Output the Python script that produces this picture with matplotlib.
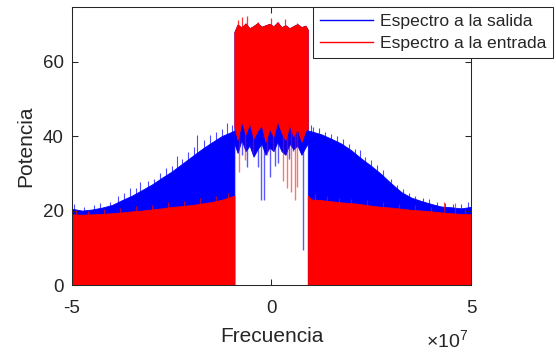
import matplotlib
matplotlib.use("Agg")
import matplotlib.pyplot as plt
from matplotlib.lines import Line2D
from matplotlib.ticker import FuncFormatter
import numpy as np

plt.rcParams["font.family"] = ["Liberation Sans", "DejaVu Sans"]
plt.rcParams["mathtext.fontset"] = "custom"
plt.rcParams["mathtext.rm"] = "Liberation Sans"

ink = "#262626"
SCALE = 1e7   # frequency axis in Hz, labels shown in units of 1e7

# --- spectrum envelopes (freq in units of 1e7 Hz) ---
# outside the pass band, left side
f_left = [-5.0, -4.75, -4.5, -4.25, -4.0, -3.75, -3.5, -3.25, -3.0, -2.75,
          -2.5, -2.25, -2.0, -1.75, -1.5, -1.25, -0.93]
salida_left = [20.5, 20.0, 20.3, 20.8, 21.5, 22.8, 24.0, 25.5, 27.0, 28.8,
               30.5, 32.5, 34.5, 36.5, 38.3, 40.0, 41.5]
entrada_left = [19.0, 18.9, 19.0, 19.1, 19.3, 19.5, 19.8, 20.0, 20.3, 20.6,
                21.0, 21.2, 21.5, 21.9, 22.3, 22.9, 24.0]

# outside the pass band, right side
f_right = [0.91, 1.0, 1.25, 1.5, 1.75, 2.0, 2.25, 2.5, 2.75, 3.0,
           3.25, 3.5, 3.75, 4.0, 4.25, 4.5, 4.75, 5.0]
salida_right = [41.5, 41.3, 40.5, 39.3, 38.0, 36.2, 34.0, 32.0, 29.8, 27.3,
                25.0, 23.5, 22.6, 21.8, 21.1, 20.9, 20.6, 21.0]
entrada_right = [24.0, 23.0, 22.8, 22.5, 22.2, 22.0, 21.7, 21.3, 21.0, 20.8,
                 20.5, 20.2, 20.0, 19.8, 19.5, 19.3, 19.1, 19.0]

# inside the pass band
f_band = [-0.93, -0.85, -0.75, -0.65, -0.55, -0.45, -0.35, -0.25, -0.15, -0.05,
          0.05, 0.15, 0.25, 0.35, 0.45, 0.55, 0.65, 0.75, 0.85, 0.91]
band_top = [68.0, 70.0, 69.2, 70.3, 69.0, 69.6, 70.4, 69.4, 69.8, 70.2,
            69.5, 70.6, 69.3, 69.8, 69.0, 69.6, 70.1, 69.3, 69.7, 68.6]
entrada_band_low = [42.5, 39.0, 44.0, 40.5, 43.5, 39.5, 41.5, 43.0, 38.5, 42.0,
                    40.0, 44.0, 41.0, 39.0, 43.0, 40.0, 42.0, 38.5, 41.5, 42.0]
salida_band_low = [38.0, 35.5, 39.0, 36.0, 37.5, 34.5, 36.5, 38.0, 35.0, 37.0,
                   36.0, 38.5, 36.0, 35.0, 38.0, 36.5, 37.5, 35.0, 37.0, 38.0]

# single deep dips inside the band (freq, lowest value)
salida_dip_f = [-0.75, -0.61, -0.34, -0.27, -0.19, -0.04, 0.09, 0.16, 0.45, 0.55, 0.78]
salida_dip_v = [35.0, 31.7, 31.7, 22.8, 22.8, 29.0, 32.0, 32.7, 34.0, 36.0, 9.4]
entrada_dip_f = [-0.81, -0.66, -0.46, -0.12, 0.05, 0.29, 0.38, 0.49, 0.60, 0.64]
entrada_dip_v = [30.5, 33.6, 35.4, 35.0, 36.0, 28.0, 26.0, 25.0, 22.8, 26.4]

# spikes poking above the envelopes (freq, peak value)
salida_spike_f = [-4.95, -4.7, -4.45, -4.3, -4.05, -3.85, -3.7, -3.55, -3.4, -3.3,
                  -3.1, -2.95, -2.8, -2.65, -2.5, -2.38, -2.25, -2.1, -1.95, -1.87,
                  -1.7, -1.55, -1.4, -1.25, -1.12, -1.0,
                  0.98, 1.05, 1.2, 1.35, 1.5, 1.65, 1.8, 1.95, 2.1, 2.22,
                  2.35, 2.5, 2.65, 2.8, 3.0, 3.15, 3.3, 3.45, 3.6, 3.8,
                  3.95, 4.15, 4.35, 4.55, 4.75, 4.92]
salida_spike_v = [21.8, 21.0, 21.5, 22.0, 22.3, 23.8, 24.6, 26.2, 26.0, 27.8,
                  27.9, 28.6, 30.0, 31.5, 32.0, 34.8, 34.0, 35.8, 37.0, 40.2,
                  39.0, 40.3, 41.2, 41.8, 43.6, 43.0,
                  43.0, 42.5, 42.3, 41.0, 40.6, 40.0, 39.2, 37.8, 36.5, 36.3,
                  34.5, 33.5, 32.2, 31.0, 28.5, 27.0, 25.8, 24.8, 24.0, 23.5,
                  23.0, 22.4, 22.0, 21.9, 21.7, 22.3]
entrada_spike_f = [-4.9, -4.6, -4.2, -3.8, -3.4, -3.0, -2.6, -2.2, -1.8, -1.4, -1.1,
                   1.1, 1.4, 1.7, 2.0, 2.4, 2.8, 3.2, 3.6, 4.0, 4.32, 4.6, 4.85]
entrada_spike_v = [20.2, 20.0, 20.3, 20.8, 21.2, 21.6, 22.2, 22.6, 23.3, 24.0, 24.8,
                   24.5, 23.8, 23.5, 23.2, 22.8, 22.2, 21.8, 21.4, 21.0, 22.4, 22.0, 20.3]
band_spike_f = [-0.83, -0.75, -0.62, -0.33, 0.0, 0.17, 0.35, 0.63]
band_spike_v = [71.2, 72.0, 72.3, 70.8, 71.7, 70.8, 71.5, 70.5]

fig = plt.figure(figsize=(5.56, 3.53), dpi=100)
ax = fig.add_axes([0.1295, 0.1926, 0.7176, 0.7884])

blue, red = "#0000ff", "#ff0000"

def hz(v):
    return np.asarray(v) * SCALE

# salida (blue) first, entrada (red) on top
ax.fill_between(hz(f_left), 0, salida_left, color=blue, lw=0.6, zorder=1)
ax.fill_between(hz(f_right), 0, salida_right, color=blue, lw=0.6, zorder=1)
ax.fill_between(hz(f_band), salida_band_low, band_top, color=blue, lw=0.6, zorder=1)
ax.vlines(hz(salida_dip_f), salida_dip_v, 45, color=blue, lw=1.0, alpha=0.65, zorder=1)
ax.vlines(hz(salida_spike_f), 15, salida_spike_v, color=blue, lw=0.8, alpha=0.7, zorder=1)

ax.fill_between(hz(f_left), 0, entrada_left, color=red, lw=0.6, zorder=2)
ax.fill_between(hz(f_right), 0, entrada_right, color=red, lw=0.6, zorder=2)
ax.fill_between(hz(f_band), entrada_band_low, band_top, color=red, lw=0.6, zorder=2)
ax.vlines(hz(entrada_dip_f), entrada_dip_v, 45, color=red, lw=1.0, alpha=0.55, zorder=2)
ax.vlines(hz(entrada_spike_f), 15, entrada_spike_v, color=red, lw=0.8, alpha=0.7, zorder=2)
ax.vlines(hz(band_spike_f), 60, band_spike_v, color=red, lw=0.9, alpha=0.8, zorder=2)

ax.set_xlim(-5e7, 5e7)
ax.set_ylim(0, 74.8)
ax.set_xticks([-5e7, 0, 5e7])
ax.set_yticks([0, 20, 40, 60])
ax.xaxis.set_major_formatter(FuncFormatter(lambda v, p: f"{v / SCALE:g}"))

ax.tick_params(direction="in", top=True, right=True, length=4, width=0.75,
               colors=ink, labelsize=13.5)
ax.tick_params(axis="x", pad=11)
ax.tick_params(axis="y", pad=6)
for s in ax.spines.values():
    s.set_color(ink)
    s.set_linewidth(0.75)

ax.set_xlabel("Frecuencia", fontsize=15, color=ink)
ax.set_ylabel("Potencia", fontsize=15, color=ink)
ax.xaxis.set_label_coords(0.5, -0.152)
ax.yaxis.set_label_coords(-0.093, 0.5)

fig.text(468 / 556, 5 / 353, r"$\times10^{7}$", ha="right", va="baseline",
         fontsize=14, color=ink)

handles = [Line2D([], [], color=blue, lw=1.0), Line2D([], [], color=red, lw=1.0)]
leg = ax.legend(handles, ["Espectro a la salida", "Espectro a la entrada"],
                loc="upper left", bbox_to_anchor=(313 / 556, 1 - 7 / 353),
                bbox_transform=fig.transFigure, borderaxespad=0, fontsize=12.6,
                handlelength=3.0, handletextpad=0.4, borderpad=0.4,
                labelspacing=0.35, fancybox=False, framealpha=1, edgecolor=ink)
leg.get_frame().set_linewidth(0.75)
for t in leg.get_texts():
    t.set_color(ink)

fig.savefig("out.png", dpi=100)
